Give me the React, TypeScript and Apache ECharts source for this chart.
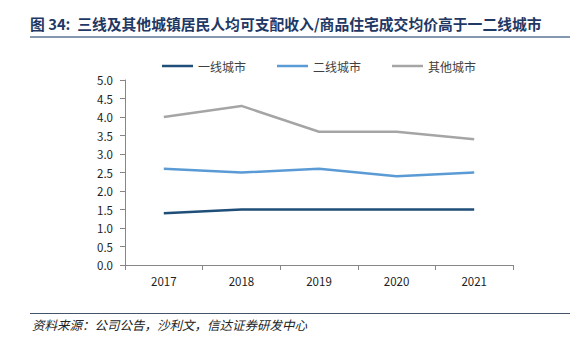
import React, { useEffect, useRef } from "react";
import * as echarts from "echarts";

const years = ["2017", "2018", "2019", "2020", "2021"];
const tier1 = [1.4, 1.5, 1.5, 1.5, 1.5];
const tier2 = [2.6, 2.5, 2.6, 2.4, 2.5];
const others = [4.0, 4.3, 3.6, 3.6, 3.4];
const seriesNames = ["一线城市", "二线城市", "其他城市"];
const titleText = "图 34:  三线及其他城镇居民人均可支配收入/商品住宅成交均价高于一二线城市";
const sourceText = "资料来源：公司公告，沙利文，信达证券研发中心";

const FONT = "'Noto Sans CJK SC', 'Noto Sans', sans-serif";

export default function App() {
  const ref = useRef<HTMLDivElement>(null);
  useEffect(() => {
    if (!ref.current) return;
    const chart = echarts.init(ref.current, null, { renderer: "svg" });
    const colors = ["#1F4E79", "#5B9BD5", "#A5A5A5"];
    const datas = [tier1, tier2, others];
    chart.setOption({
      animation: false,
      backgroundColor: "#ffffff",
      textStyle: { fontFamily: FONT },
      graphic: [
        {
          type: "text",
          left: 30,
          top: 16,
          style: {
            text: titleText,
            fontSize: 14.8,
            fontWeight: "bold",
            fill: "#1F3864",
            fontFamily: FONT,
          },
        },
        {
          type: "rect",
          shape: { x: 30, y: 36, width: 540, height: 2 },
          style: { fill: "#8497B0" },
        },
        {
          type: "rect",
          shape: { x: 30, y: 313, width: 540, height: 1 },
          style: { fill: "#44546A" },
        },
        {
          type: "text",
          left: 32,
          top: 318,
          style: {
            text: sourceText,
            fontSize: 12.5,
            fontStyle: "italic",
            fill: "#222",
            fontFamily: FONT,
          },
        },
      ],
      legend: {
        left: 157,
        top: 55,
        icon: "rect",
        itemWidth: 31,
        itemHeight: 2.5,
        itemGap: 31,
        textStyle: { fontSize: 12, color: "#404040", fontFamily: FONT },
        data: seriesNames,
      },
      grid: { left: 125, right: 74, top: 80, bottom: 89 },
      xAxis: {
        type: "category",
        data: years,
        boundaryGap: true,
        axisLine: { lineStyle: { color: "#868686", width: 1 } },
        axisTick: { show: true, length: 5, lineStyle: { color: "#868686" } },
        axisLabel: { fontSize: 11.5, color: "#222", margin: 10, fontFamily: FONT },
        splitLine: { show: false },
      },
      yAxis: {
        type: "value",
        min: 0,
        max: 5,
        interval: 0.5,
        axisLine: { show: true, lineStyle: { color: "#868686", width: 1 } },
        axisTick: { show: true, length: 5, lineStyle: { color: "#868686" } },
        axisLabel: {
          fontSize: 11.5,
          color: "#222",
          margin: 12,
          fontFamily: FONT,
          formatter: (v: number) => v.toFixed(1),
        },
        splitLine: { show: false },
      },
      series: seriesNames.map((name, i) => ({
        name,
        type: "line",
        data: datas[i],
        symbol: "none",
        lineStyle: { color: colors[i], width: 2.5 },
        itemStyle: { color: colors[i] },
      })),
    });
    return () => chart.dispose();
  }, []);
  return <div ref={ref} style={{ width: 587, height: 354, position: "absolute", left: 0, top: 0 }} />;
}
